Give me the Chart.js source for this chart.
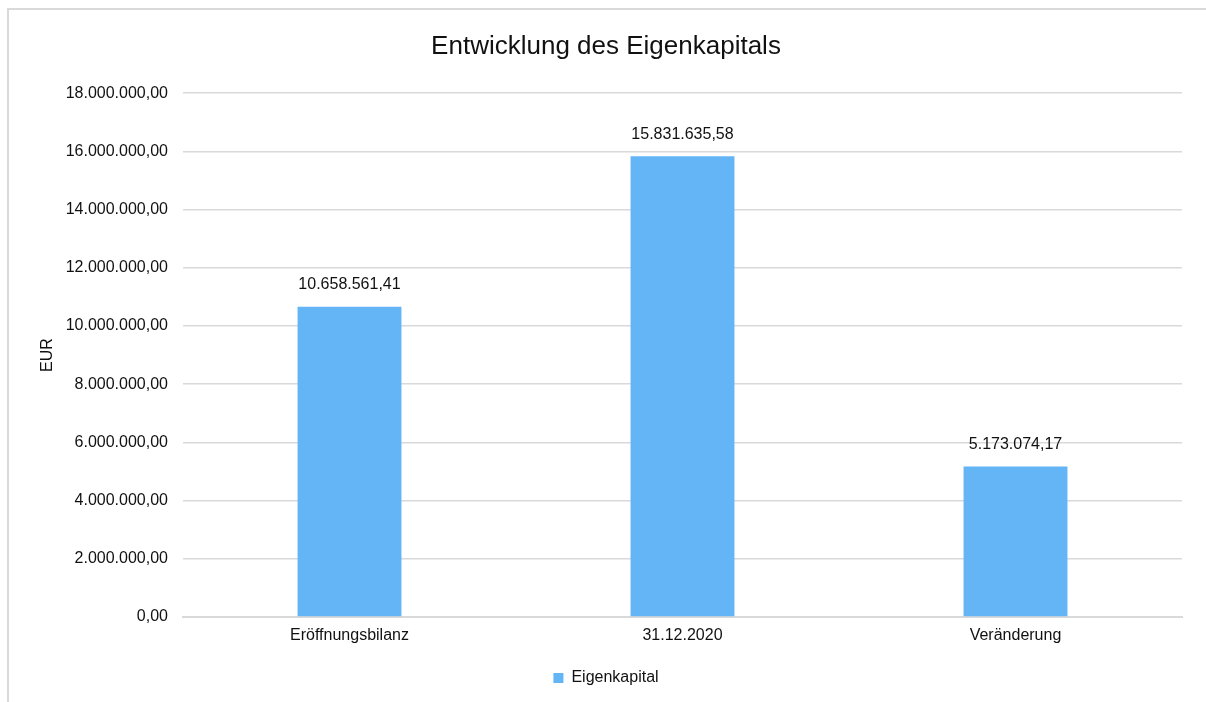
<!DOCTYPE html>
<html>
<head>
<meta charset="utf-8">
<script src="https://cdn.jsdelivr.net/npm/chart.js@4"></script>
<style>
  html, body { margin: 0; padding: 0; background: #fff; overflow: hidden; width: 1206px; height: 702px; }
  #frame { position: absolute; left: 7px; top: 8px; width: 1400px; height: 900px; border: 2px solid #d9d9d9; box-sizing: border-box; }
  #wrap { position: absolute; left: 0; top: 0; width: 1206px; height: 702px; }
</style>
</head>
<body>
<div id="frame"></div>
<div id="wrap"><canvas id="c" width="1206" height="702"></canvas></div>
<script>
const categories = ['Eröffnungsbilanz', '31.12.2020', 'Veränderung'];
const seriesName = 'Eigenkapital';
const values = [10658561.41, 15831635.58, 5173074.17];
const yTickMax = 18000000;
const yTickStep = 2000000;
const chartTitle = 'Entwicklung des Eigenkapitals';
const yAxisTitle = 'EUR';

function fmtDE(v) {
  const neg = v < 0;
  v = Math.abs(v);
  const fixed = v.toFixed(2);
  let [intPart, dec] = fixed.split('.');
  intPart = intPart.replace(/\B(?=(\d{3})+(?!\d))/g, '.');
  return (neg ? '-' : '') + intPart + ',' + dec;
}

const FONT = "'Liberation Sans', Arial, sans-serif";
const TEXT = '#111111';

const valueLabels = {
  id: 'valueLabels',
  afterDatasetsDraw(chart) {
    const ctx = chart.ctx;
    ctx.save();
    ctx.font = '16px ' + FONT;
    ctx.fillStyle = TEXT;
    ctx.textAlign = 'center';
    ctx.textBaseline = 'middle';
    chart.data.datasets.forEach((ds, i) => {
      const meta = chart.getDatasetMeta(i);
      meta.data.forEach((bar, j) => {
        ctx.fillText(fmtDE(ds.data[j]), bar.x, bar.y - 22);
      });
    });
    ctx.restore();
  }
};

new Chart(document.getElementById('c'), {
  type: 'bar',
  data: {
    labels: categories,
    datasets: [{
      label: seriesName,
      data: values,
      backgroundColor: '#64b5f6',
      borderWidth: 0,
      barPercentage: 0.312,
      categoryPercentage: 1.0
    }]
  },
  plugins: [valueLabels],
  options: {
    responsive: false,
    animation: false,
    devicePixelRatio: 1,
    layout: { padding: { left: 15, right: 9, top: 0, bottom: 6 } },
    plugins: {
      title: {
        display: true,
        text: chartTitle,
        color: TEXT,
        font: { family: FONT, size: 26, weight: 'normal', lineHeight: 1.2 },
        padding: { top: 31, bottom: 31 }
      },
      legend: {
        position: 'bottom',
        labels: {
          color: TEXT,
          font: { family: FONT, size: 16 },
          boxWidth: 10,
          boxHeight: 10,
          padding: 10
        }
      },
      tooltip: { enabled: false }
    },
    scales: {
      x: {
        grid: { display: false, drawTicks: false },
        border: { display: true, color: '#d9d9d9', width: 2 },
        ticks: { color: TEXT, font: { family: FONT, size: 16 }, padding: 9, maxRotation: 0 },
        afterFit(scale) { scale.height = 43; }
      },
      y: {
        min: 0,
        max: yTickMax,
        grid: { color: '#d9d9d9', lineWidth: 1.5, drawTicks: false },
        border: { display: false },
        ticks: {
          stepSize: yTickStep,
          color: TEXT,
          font: { family: FONT, size: 16 },
          padding: 15,
          callback: (v) => fmtDE(v)
        },
        title: {
          display: true,
          text: yAxisTitle,
          color: TEXT,
          font: { family: FONT, size: 16 },
          padding: { top: 23, bottom: 0 }
        },
        afterFit(scale) { scale.width = 168; }
      },
      yRight: {
        type: 'linear',
        position: 'right',
        display: true,
        grid: { display: false, drawTicks: false },
        border: { display: false },
        ticks: { display: false },
        afterFit(scale) { scale.width = 15; }
      }
    }
  }
});
</script>
</body>
</html>
